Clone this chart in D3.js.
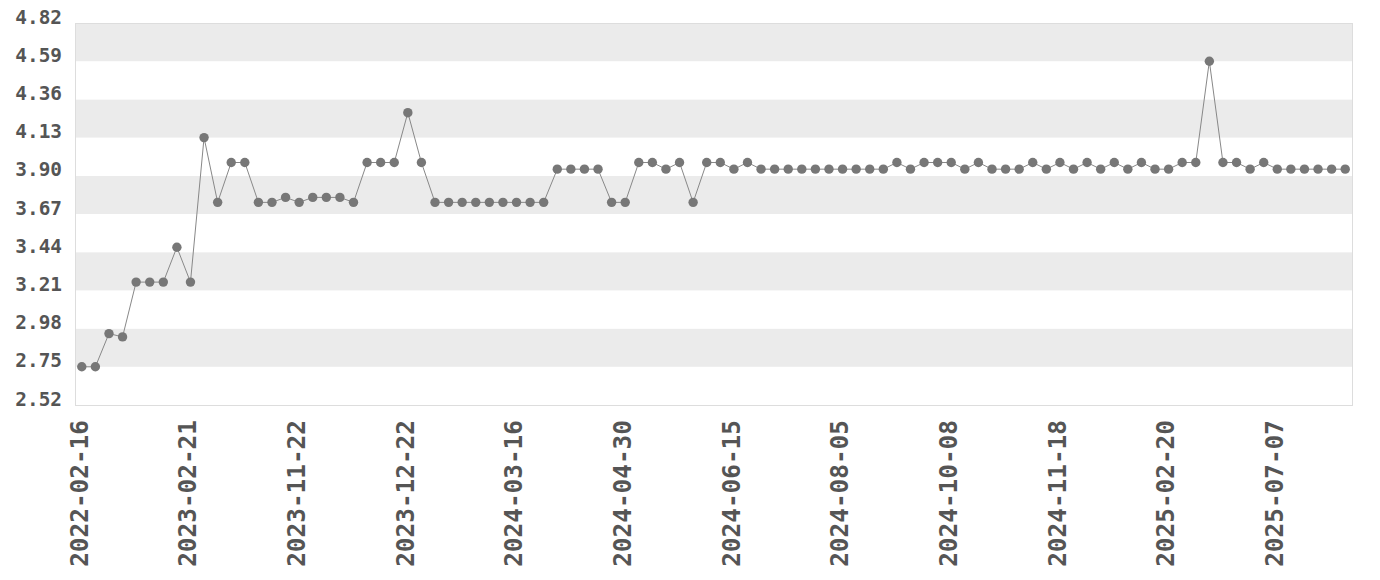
<!DOCTYPE html>
<html>
<head>
<meta charset="utf-8">
<script src="https://cdn.jsdelivr.net/npm/d3@7"></script>
<style>
	body{margin:0;background:#fff;}
	svg text{font-family:"DejaVu Sans Mono",monospace;font-weight:bold;fill:#555;}
</style>
</head>
<body>
<svg id="chart" width="1380" height="580"></svg>
<script>
// values, one per sample
const values = [
	2.75,2.75,2.95,2.93,3.26,3.26,3.26,3.47,3.26,4.13,
	3.74,3.98,3.98,3.74,3.74,3.77,3.74,3.77,3.77,3.77,
	3.74,3.98,3.98,3.98,4.28,3.98,3.74,3.74,3.74,3.74,
	3.74,3.74,3.74,3.74,3.74,3.94,3.94,3.94,3.94,3.74,
	3.74,3.98,3.98,3.94,3.98,3.74,3.98,3.98,3.94,3.98,
	3.94,3.94,3.94,3.94,3.94,3.94,3.94,3.94,3.94,3.94,
	3.98,3.94,3.98,3.98,3.98,3.94,3.98,3.94,3.94,3.94,
	3.98,3.94,3.98,3.94,3.98,3.94,3.98,3.94,3.98,3.94,
	3.94,3.98,3.98,4.59,3.98,3.98,3.94,3.98,3.94,3.94,
	3.94,3.94,3.94,3.94
];
// date labels shown on the axis, one every 8 samples
const tickLabels = ['2022-02-16','2023-02-21','2023-11-22','2023-12-22','2024-03-16','2024-04-30',
	'2024-06-15','2024-08-05','2024-10-08','2024-11-18','2025-02-20','2025-07-07'];
const tickEvery = 8;
const yTicks = [2.52,2.75,2.98,3.21,3.44,3.67,3.90,4.13,4.36,4.59,4.82];

const margin = {top:23,right:28,bottom:175,left:75};
const svg = d3.select('#chart');
const width = +svg.attr('width'), height = +svg.attr('height');
const w = width-margin.left-margin.right, h = height-margin.top-margin.bottom;

const x = d3.scalePoint()
	.domain(d3.range(values.length))
	.range([margin.left,margin.left+w])
	.padding(0.5);
const y = d3.scaleLinear()
	.domain([yTicks[0],yTicks[yTicks.length-1]])
	.range([margin.top+h,margin.top]);

// alternating bands, top one grey
const bands = d3.range(yTicks.length-1).map(i=>[yTicks[i],yTicks[i+1]]);
svg.append('g').selectAll('rect')
	.data(bands)
	.join('rect')
		.attr('x',margin.left)
		.attr('width',w)
		.attr('y',d=>y(d[1]))
		.attr('height',d=>y(d[0])-y(d[1]))
		.attr('fill',(d,i)=> (bands.length-1-i)%2==0 ? '#ebebeb' : '#fff');

svg.append('rect')
	.attr('x',margin.left+0.5).attr('y',margin.top+0.5)
	.attr('width',w).attr('height',h)
	.attr('fill','none').attr('stroke','#ddd');

// y axis
const yAxis = d3.axisLeft(y).tickValues(yTicks).tickFormat(d3.format('.2f')).tickSize(0).tickPadding(13);
svg.append('g')
	.attr('transform','translate('+margin.left+',0)')
	.call(yAxis)
	.call(g=>g.select('.domain').remove())
	.selectAll('text')
		.attr('dy',0)
		.style('font-size','19.4px');

// x axis
const xAxis = d3.axisBottom(x)
	.tickValues(d3.range(0,values.length,tickEvery))
	.tickFormat((d,i)=>tickLabels[i])
	.tickSize(0);
svg.append('g')
	.attr('transform','translate(0,'+(margin.top+h)+')')
	.call(xAxis)
	.call(g=>g.select('.domain').remove())
	.selectAll('text')
		.attr('transform','rotate(-90)')
		.attr('x',-15)
		.attr('y',0)
		.attr('dy','0.22em')
		.style('text-anchor','end')
		.style('font-size','24.4px');

// line + dots
const line = d3.line().x((d,i)=>x(i)).y(d=>y(d));
svg.append('path')
	.datum(values)
	.attr('d',line)
	.attr('fill','none')
	.attr('stroke','#888')
	.attr('stroke-width',1);

svg.append('g').selectAll('circle')
	.data(values)
	.join('circle')
		.attr('cx',(d,i)=>x(i))
		.attr('cy',d=>y(d))
		.attr('r',4.7)
		.attr('fill','#777');
</script>
</body>
</html>
